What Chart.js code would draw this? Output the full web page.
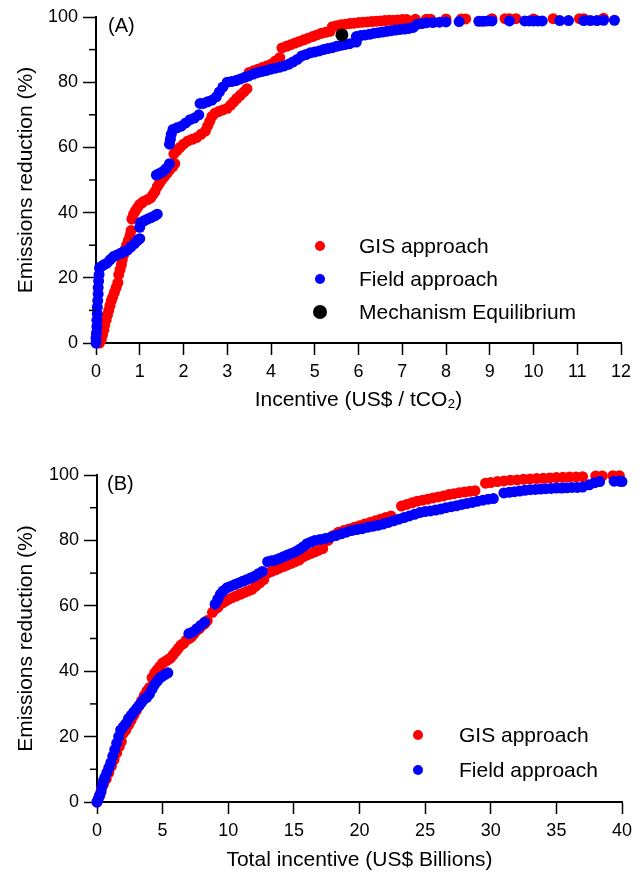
<!DOCTYPE html>
<html>
<head>
<meta charset="utf-8">
<script src="https://cdn.jsdelivr.net/npm/chart.js@4/dist/chart.umd.min.js"></script>
<style>
  body { margin: 0; background: #fff; font-family: "Liberation Sans", Arial, sans-serif; }
  .panel { position: absolute; left: 0; width: 641px; }
  .tag { position: absolute; font-size: 20px; color: #000; line-height: 24px; }
  .leg { position: absolute; left: 0; font-size: 21px; line-height: 26px; height: 26px; color: #000; white-space: nowrap; }
  .dot { position: absolute; border-radius: 50%; }
</style>
</head>
<body>
<div class="panel" style="top:0;height:420px"><canvas id="chartA"></canvas></div>
<div class="panel" style="top:440px;height:433px"><canvas id="chartB"></canvas></div>

<div class="tag" style="left:108px;top:13px">(A)</div>
<div class="tag" style="left:107px;top:471px">(B)</div>

<div class="leg" style="top:233px"><span class="dot" style="left:315px;top:8px;width:10px;height:10px;background:#ff0000"></span><span style="position:absolute;left:359px">GIS approach</span></div>
<div class="leg" style="top:266px"><span class="dot" style="left:315px;top:8px;width:10px;height:10px;background:#0000ff"></span><span style="position:absolute;left:359px">Field approach</span></div>
<div class="leg" style="top:299px"><span class="dot" style="left:313px;top:6px;width:14px;height:14px;background:#000"></span><span style="position:absolute;left:359px">Mechanism Equilibrium</span></div>

<div class="leg" style="top:722px"><span class="dot" style="left:413px;top:8px;width:10px;height:10px;background:#ff0000"></span><span style="position:absolute;left:459px">GIS approach</span></div>
<div class="leg" style="top:757px"><span class="dot" style="left:413px;top:8px;width:10px;height:10px;background:#0000ff"></span><span style="position:absolute;left:459px">Field approach</span></div>

<script>
// ticks
const yTicks = [0, 10, 20, 30, 40, 50, 60, 70, 80, 90, 100];
const topXTicks = [0, 1, 2, 3, 4, 5, 6, 7, 8, 9, 10, 11, 12];
const bottomXTicks = [0, 5, 10, 15, 20, 25, 30, 35, 40];

// (A) incentive US$/tCO2 vs emissions reduction %
const gisA = [
  [0.08,0],[0.12,1],[0.15,2.5],[0.18,4],[0.2,5.5],[0.23,7],[0.26,8.5],[0.29,10],[0.32,11.5],[0.35,13],[0.38,14],[0.42,15.5],[0.46,17],[0.5,18.5],
  [0.52,21],[0.55,22.5],[0.58,24],[0.6,25.5],[0.63,27],[0.66,28.5],[0.7,30],[0.74,31.5],[0.78,33],[0.8,34.5],
  [0.82,38],[0.86,39.5],[0.9,40.5],[0.95,41.5],[1.0,42.5],[1.05,43],[1.1,43.5],[1.18,44],[1.25,44.5],[1.3,45.5],[1.35,46.5],[1.4,48],[1.45,49],[1.5,50],[1.56,51],[1.62,52],[1.68,53],[1.75,54],[1.8,55],
  [1.78,58],[1.85,59],[1.92,60],[2.0,61],[2.1,62],[2.2,62.5],[2.3,63],[2.4,64],[2.5,65],[2.55,66.5],[2.6,68],[2.65,69.5],[2.72,70.5],[2.8,71],[2.9,71.5],[3.0,72],[3.08,73],[3.15,74],[3.22,75],[3.3,76],[3.38,77],[3.45,78],
  [3.5,83],[3.6,83.5],[3.7,84],[3.8,84.5],[3.9,85],[4.0,85.5],[4.1,86.5],[4.2,87.5],
  [4.25,90.5],[4.35,91],[4.45,91.5],[4.55,92],[4.65,92.5],[4.75,93],[4.85,93.5],[4.95,94],[5.05,94.5],[5.15,95],[5.25,95.3],[5.35,95.6],
  [5.4,97],[5.5,97.3],[5.6,97.6],[5.7,97.8],[5.8,98],[5.9,98.1],[6.0,98.3],[6.1,98.4],[6.2,98.5],[6.3,98.6],[6.4,98.7],[6.5,98.8],[6.6,98.9],[6.7,99],[6.8,99],[6.9,99.1],[7.0,99.2],[7.1,99.2],
  [7.3,99.3],[7.55,99.3],[7.65,99.3],[8.0,99.4],[8.35,99.4],[8.45,99.4],[9.05,99.5],[9.35,99.5],[9.45,99.5],[9.6,99.5],[10.0,99.4],[10.45,99.5],[11.05,99.5],[11.15,99.5],[11.6,99.6]
];
const fieldA = [
  [0,0],[0,1.5],[0.01,3],[0.02,5],[0.02,7],[0.03,9],[0.03,11],[0.04,13],[0.05,15],[0.05,17],[0.06,19],[0.07,21],[0.08,23],
  [0.12,23.5],[0.18,24],[0.25,24.5],[0.32,25.5],[0.4,26.5],[0.48,27],[0.56,27.5],[0.64,28],[0.72,28.5],[0.8,29.5],[0.88,30.5],[0.95,31.5],[1.0,32],
  [1.0,35.5],[1.02,37],[1.1,37.5],[1.18,38],[1.26,38.5],[1.34,39],[1.4,39.5],
  [1.38,51.5],[1.45,52],[1.52,52.5],[1.6,53.5],[1.68,55],
  [1.68,61],[1.7,62.5],[1.72,64],[1.76,65.5],[1.85,66],[1.95,66.5],[2.05,67.5],[2.15,68.5],[2.25,69],[2.35,70],
  [2.38,73.5],[2.45,73.5],[2.55,74],[2.65,74.5],[2.75,75.5],[2.82,77],[2.9,78.5],[3.0,80],[3.1,80.2],[3.2,80.5],[3.3,81],[3.4,81.5],[3.5,82],[3.6,82.5],[3.7,83],[3.8,83.3],[3.9,83.6],[4.0,84],[4.1,84.3],[4.2,84.6],[4.3,85],[4.4,85.5],[4.5,86.2],[4.6,87],[4.7,88],[4.8,88.5],[4.9,89],[5.0,89.3],[5.1,89.6],[5.2,90],[5.3,90.3],[5.4,90.6],[5.5,91],[5.6,91.3],[5.7,91.6],[5.8,91.8],[5.95,92.3],
  [5.95,94],[6.05,94.3],[6.15,94.5],[6.25,94.7],[6.35,95],[6.45,95.2],[6.55,95.4],[6.65,95.6],[6.75,95.8],[6.85,96],[6.95,96.2],[7.05,96.3],[7.15,96.5],[7.25,96.8],
  [7.35,97.8],[7.45,98],[7.55,98.2],[7.7,98.3],[7.85,98.4],[8.0,98.5],[8.3,98.6],[8.75,98.7],[8.85,98.7],[8.95,98.8],[9.05,98.8],[9.45,98.8],[9.8,98.8],[9.9,98.8],[10.0,98.8],[10.1,98.8],[10.2,98.8],[10.6,98.9],[10.8,98.9],[11.15,98.9],[11.3,98.9],[11.45,98.9],[11.6,99],[11.85,99]
];
const equilibriumA = [[5.62, 94.5]];

// (B) total incentive US$ billions vs emissions reduction %
const gisB = [
  [0,0],[0.2,2],[0.35,4],[0.5,5.5],[0.7,7],[0.9,9],[1.1,11],[1.3,13],[1.5,15],[1.7,17],[1.85,18.5],
  [2.0,21],[2.2,22],[2.4,23.5],[2.6,25],[2.8,26.5],[3.0,28],[3.2,29.5],[3.4,31],[3.6,32.5],[3.8,34],[4.0,35],
  [4.2,38],[4.4,39.5],[4.6,40.5],[4.8,41.5],[5.0,42.5],[5.2,43],[5.4,43.5],[5.6,44],[5.8,45],[6.0,46],[6.2,47],[6.4,48],[6.6,48.5],[6.8,49.5],[7.0,50],[7.2,50.5],[7.4,51.5],[7.6,52.5],[7.8,53],[8.0,54],[8.2,54.5],[8.4,55.5],
  [8.8,58],[9.0,59],[9.2,59.5],[9.4,60.5],[9.6,61],[9.8,61.5],[10.0,62],[10.3,62.5],[10.6,63],[10.9,63.5],[11.2,64],[11.5,64.5],[11.8,65],[12.1,66],[12.4,67],[12.7,68],
  [13.0,70],[13.3,70.5],[13.6,71],[13.9,71.5],[14.2,72],[14.5,72.5],[14.8,73],[15.1,73.5],[15.4,74],[15.7,75],[16.0,75.5],[16.3,76],[16.6,76.5],[16.9,77],[17.2,77.5],
  [17.6,80],[18.0,81.5],[18.4,82.5],[18.8,83],[19.2,83.5],[19.6,84],[20.0,84.5],[20.4,85],[20.8,85.5],[21.2,86],[21.6,86.5],[22.0,87],[22.4,87.5],
  [23.2,90.5],[23.6,91],[24.0,91.5],[24.4,92],[24.8,92.3],[25.2,92.6],[25.6,93],[26.0,93.3],[26.4,93.6],[26.8,94],[27.2,94.3],[27.6,94.6],[28.0,94.8],[28.4,95],[28.8,95.2],
  [29.6,97.5],[30.0,97.7],[30.5,98],[31.0,98.2],[31.5,98.4],[32.0,98.5],[32.5,98.7],[33.0,98.8],[33.5,98.9],[34.0,99],[34.5,99.1],[35.0,99.2],[35.5,99.3],[36.0,99.4],[36.5,99.4],[37.0,99.5],
  [38.0,99.7],[38.5,99.7],[39.3,99.8],[39.8,99.8]
];
const fieldB = [
  [0,0],[0.1,1],[0.2,2],[0.3,3],[0.4,5],[0.5,6.5],[0.6,7.5],[0.75,9],[0.9,10.5],[1.05,12],[1.2,14],[1.35,16],[1.5,18],[1.65,20],[1.8,22],[2.0,23],[2.2,24],[2.4,25.5],[2.6,26.5],[2.8,27.5],[3.0,28.5],[3.2,29.5],[3.4,30.5],[3.6,31.5],[3.8,32],[4.0,33],[4.2,34.5],[4.4,36],[4.6,37],[4.8,38],[5.0,38.5],[5.2,39],[5.4,39.5],
  [7.0,51.5],[7.3,52],[7.6,53],[7.9,54],[8.2,55],
  [9.0,60.5],[9.2,62],[9.4,63.5],[9.6,64.5],[9.9,65.5],[10.2,66],[10.5,66.5],[10.8,67],[11.1,67.5],[11.4,68],[11.7,68.5],[12.0,69],[12.3,69.8],[12.6,70.5],
  [13.0,73.5],[13.3,73.8],[13.6,74],[13.9,74.5],[14.2,75],[14.5,75.5],[14.8,76],[15.1,76.5],[15.4,77.2],[15.7,78],[16.0,79],[16.3,79.5],[16.6,80],[17.0,80.3],[17.4,80.6],[17.8,81],[18.2,81.5],[18.6,82],[19.0,82.5],[19.4,83],[19.8,83.3],[20.2,83.6],[20.6,84],[21.0,84.3],[21.4,84.6],[21.8,85],[22.2,85.5],[22.6,86],[23.0,86.5],[23.4,87],[23.8,87.5],[24.2,88],[24.6,88.5],[25.0,88.8],[25.4,89],[25.8,89.3],[26.2,89.6],[26.6,90],[27.0,90.3],[27.4,90.6],[27.8,91],[28.2,91.3],[28.6,91.6],[29.0,92],[29.4,92.3],[29.8,92.6],[30.2,92.8],
  [31.0,94.5],[31.4,94.7],[31.8,94.9],[32.2,95.1],[32.6,95.3],[33.0,95.5],[33.4,95.6],[33.8,95.7],[34.2,95.8],[34.6,95.9],[35.0,96],[35.4,96],[35.8,96.1],[36.2,96.2],[36.6,96.2],[37.0,96.3],
  [37.5,97],[37.9,97.6],[38.3,98],[39.4,98.1],[39.8,98.1],[40.0,98]
];

const FONT = 'Liberation Sans, Arial, Helvetica, sans-serif';
const toXY = pts => pts.map(p => ({ x: p[0], y: p[1] }));

// short minor ticks on the y axis (the odd tens)
const minorTicks = {
  id: 'minorTicks',
  afterDraw(chart) {
    const s = chart.scales.y;
    const ctx = chart.ctx;
    ctx.save();
    ctx.strokeStyle = '#000';
    ctx.lineWidth = 1.5;
    s.ticks.forEach(t => {
      if (t.value % 20 === 0) return;
      const py = s.getPixelForValue(t.value);
      ctx.beginPath();
      ctx.moveTo(s.right - 7, py);
      ctx.lineTo(s.right, py);
      ctx.stroke();
    });
    ctx.restore();
  }
};

function makeChart(id, cfg) {
  const datasets = cfg.series.map(s => ({
    data: toXY(s.data),
    backgroundColor: s.color,
    borderWidth: 0,
    pointRadius: s.radius,
    pointHoverRadius: s.radius,
    order: s.order,
    clip: false
  }));
  return new Chart(document.getElementById(id), {
    type: 'scatter',
    data: { datasets },
    plugins: [minorTicks],
    options: {
      responsive: true,
      maintainAspectRatio: false,
      animation: false,
      layout: { padding: cfg.padding },
      plugins: { legend: { display: false }, tooltip: { enabled: false } },
      scales: {
        x: {
          type: 'linear',
          min: cfg.xTicks[0],
          max: cfg.xTicks[cfg.xTicks.length - 1],
          afterBuildTicks: s => { s.ticks = cfg.xTicks.map(v => ({ value: v })); },
          afterFit: s => { s.height = cfg.xHeight; },
          border: { display: true, color: '#000', width: 2 },
          grid: { drawOnChartArea: false, drawTicks: true, tickLength: 12, tickColor: '#000', tickWidth: 1.5 },
          ticks: { color: '#000', font: { family: FONT, size: 18 }, padding: 6, maxRotation: 0, autoSkip: false },
          title: { display: true, text: cfg.xTitle, color: '#000', font: { family: FONT, size: 21 }, padding: { top: 0, bottom: cfg.xTitlePad } }
        },
        y: {
          type: 'linear',
          min: 0,
          max: 100,
          afterBuildTicks: s => { s.ticks = yTicks.map(v => ({ value: v })); },
          afterFit: s => { s.width = cfg.yWidth; },
          border: { display: true, color: '#000', width: 2 },
          grid: {
            drawOnChartArea: false, drawTicks: true, tickLength: 13, tickWidth: 1.5,
            tickColor: c => (c.tick && c.tick.value % 20 === 0 ? '#000' : 'rgba(0,0,0,0)')
          },
          ticks: {
            color: '#000', font: { family: FONT, size: 18 }, padding: 5, autoSkip: false,
            callback: v => (v % 20 === 0 ? String(v) : '')
          },
          title: { display: true, text: 'Emissions reduction (%)', color: '#000', font: { family: FONT, size: 21 }, padding: { top: 14, bottom: 0 } }
        }
      }
    }
  });
}

makeChart('chartA', {
  padding: { top: 17, right: 20, left: 0, bottom: 0 },
  yWidth: 96,
  xHeight: 77,
  xTicks: topXTicks,
  xTitle: 'Incentive (US$ / tCO\u2082)',
  xTitlePad: 7,
  series: [
    { data: gisA, color: '#ff0000', radius: 5.5, order: 3 },
    { data: fieldA, color: '#0000ff', radius: 5.5, order: 2 },
    { data: equilibriumA, color: '#000000', radius: 6.5, order: 1 }
  ]
});

makeChart('chartB', {
  padding: { top: 35, right: 19, left: 0, bottom: 0 },
  yWidth: 97,
  xHeight: 71,
  xTicks: bottomXTicks,
  xTitle: 'Total incentive (US$ Billions)',
  xTitlePad: 0,
  series: [
    { data: gisB, color: '#ff0000', radius: 5.5, order: 3 },
    { data: fieldB, color: '#0000ff', radius: 5.5, order: 2 }
  ]
});
</script>
</body>
</html>
